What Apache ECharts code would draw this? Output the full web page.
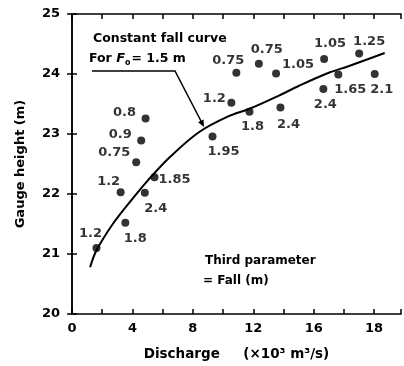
<!DOCTYPE html>
<html><head><meta charset="utf-8">
<script src="https://cdn.jsdelivr.net/npm/echarts@6/dist/echarts.min.js"></script>
<style>html,body{margin:0;padding:0;background:#fff}#c{width:404px;height:366px}</style>
</head><body><div id="c"></div>
<script>
// Observed points: discharge (x10^3 m3/s), gauge height (m), fall (m)
const discharge   = [1.62, 3.53, 3.22, 4.82, 5.46, 4.25, 4.58, 4.87, 9.30, 10.55, 10.88, 11.75, 12.37, 13.51, 13.80, 16.64, 16.69, 17.63, 19.01, 20.04];
const gaugeHeight = [21.10, 21.52, 22.03, 22.02, 22.28, 22.53, 22.89, 23.26, 22.96, 23.52, 24.02, 23.37, 24.17, 24.01, 23.44, 23.75, 24.25, 23.99, 24.34, 24.00];
const fallLabels  = ['1.2','1.8','1.2','2.4','1.85','0.75','0.9','0.8','1.95','1.2','0.75','1.8','0.75','1.05','2.4','2.4','1.05','1.65','1.25','2.1'];
// Constant fall curve for F0 = 1.5 m
const curveDischarge = [1.2, 1.6, 2.7, 4.0, 5.0, 6.5, 8.4, 10.4, 11.75, 13.7, 15.0, 17.0, 18.3, 20.7];
const curveHeight    = [20.78, 21.05, 21.50, 21.92, 22.22, 22.62, 23.03, 23.30, 23.42, 23.64, 23.80, 24.02, 24.13, 24.35];
// Tick labels
const xTickValues = [0, 4, 8, 12, 16, 20];
const xTickLabels = ['0', '4', '8', '12', '16', '18'];
const yTickLabels = ['20', '21', '22', '23', '24', '25'];

// label placement (pixel offsets from each dot) - styling only
const labelOffsets = [[-6,-14],[10,16],[-12,-11],[11,16],[20,2],[-22,-10],[-21,-6],[-21,-6],[11,15],[-17,-4],[-8,-12],[3,15],[8,-14],[22,-9],[8,17],[2,16],[6,-15],[12,15],[10,-12],[7,16]];

const FONT = 'DejaVu Sans';
const chart = echarts.init(document.getElementById('c'), null, {renderer: 'canvas'});
const axisLine = {show: true, lineStyle: {color: '#000', width: 1.5}};
const tick = {show: true, inside: true, length: 5, lineStyle: {color: '#000', width: 1.5}};
const lblFont = {color: '#000', fontFamily: FONT, fontWeight: 'bold', fontSize: 13};

chart.setOption({
  animation: false,
  backgroundColor: '#fff',
  grid: {left: 72, top: 14, right: 1, bottom: 50},
  xAxis: [{
    type: 'value', min: 0, max: 21.78, interval: 2, position: 'bottom',
    axisLine, axisTick: tick, splitLine: {show: false},
    axisLabel: Object.assign({margin: 8, formatter: v => {
      const i = xTickValues.findIndex(t => Math.abs(t - v) < 1e-6);
      return i >= 0 ? xTickLabels[i] : '';
    }}, lblFont),
    name: 'Discharge     (×10³ m³/s)', nameLocation: 'middle', nameGap: 33,
    nameTextStyle: {color: '#000', fontFamily: FONT, fontWeight: 'bold', fontSize: 13.5}
  }, {
    type: 'value', min: 0, max: 21.78, interval: 2, position: 'top',
    axisLine, axisTick: tick, axisLabel: {show: false}, splitLine: {show: false}
  }],
  yAxis: [{
    type: 'value', min: 20, max: 25, interval: 1, position: 'left',
    axisLine, axisTick: tick, splitLine: {show: false},
    axisLabel: Object.assign({margin: 12, formatter: v => yTickLabels[Math.round(v - 20)] || ''}, lblFont),
    name: 'Gauge height (m)', nameLocation: 'middle', nameGap: 45,
    nameTextStyle: {color: '#000', fontFamily: FONT, fontWeight: 'bold', fontSize: 13}
  }, {
    type: 'value', min: 20, max: 25, interval: 1, position: 'right',
    axisLine, axisTick: tick, axisLabel: {show: false}, splitLine: {show: false}
  }],
  series: [{
    type: 'line', smooth: 0.35, showSymbol: false, z: 2,
    data: curveDischarge.map((x, i) => [x, curveHeight[i]]),
    lineStyle: {color: '#000', width: 2}
  }, {
    type: 'scatter', symbol: 'circle', symbolSize: 8, z: 3,
    itemStyle: {color: '#000'},
    data: discharge.map((x, i) => ({value: [x, gaugeHeight[i]], label: {offset: labelOffsets[i]}})),
    label: {show: true, position: 'inside', formatter: p => fallLabels[p.dataIndex],
      color: '#000', textBorderWidth: 0, fontFamily: FONT, fontWeight: 'bold', fontSize: 13}
  }],
  graphic: [
    {type: 'text', left: 93, top: 32, style: {text: 'Constant fall curve', fill: '#000', font: 'bold 12.5px "DejaVu Sans"'}},
    {type: 'text', left: 89, top: 52, style: {
      text: '{n|For }{i|F}{s|o}{n|= 1.5 m}',
      rich: {
        n: {fill: '#000', font: 'bold 12.5px "DejaVu Sans"'},
        i: {fill: '#000', font: 'italic bold 13px "DejaVu Sans"'},
        s: {fill: '#000', font: 'bold 8px "DejaVu Sans"', padding: [8, 1, 0, 0]}
      }}},
    {type: 'polyline', shape: {points: [[92, 71], [175, 71], [202, 123]]}, style: {stroke: '#000', lineWidth: 1.5, fill: null}},
    {type: 'polygon', shape: {points: [[204, 127], [198.1, 122.2], [203.5, 119.4]]}, style: {fill: '#000'}},
    {type: 'text', left: 205, top: 255, style: {text: 'Third parameter', fill: '#000', font: 'bold 12px "DejaVu Sans"'}},
    {type: 'text', left: 203, top: 275, style: {text: '= Fall (m)', fill: '#000', font: 'bold 12px "DejaVu Sans"'}}
  ]
});
</script>
</body></html>
